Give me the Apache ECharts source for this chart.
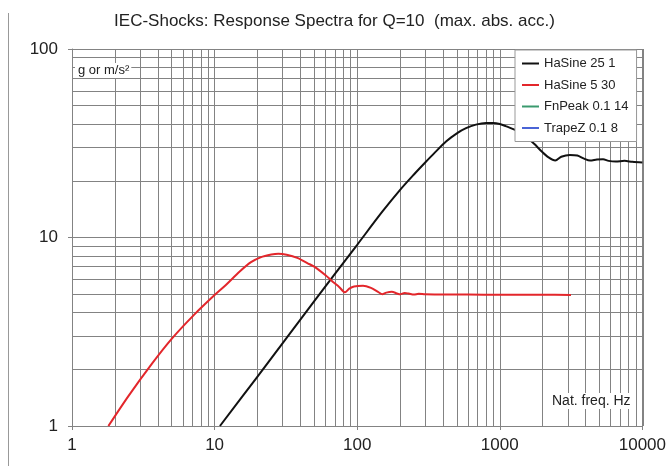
<!DOCTYPE html>
<html><head><meta charset="utf-8">
<script src="https://cdn.jsdelivr.net/npm/echarts@6/dist/echarts.min.js"></script>
<style>html,body{margin:0;padding:0;background:#fff}#c{width:669px;height:466px}</style>
</head><body><div id="c"></div>
<script>
var titleText = 'IEC-Shocks: Response Spectra for Q=10  (max. abs. acc.)';
var seriesNames = ['HaSine 25 1', 'HaSine 5 30', 'FnPeak 0.1 14', 'TrapeZ 0.1 8'];
var seriesColors = ['#111111', '#e3262b', '#3a9a6e', '#4a64d6'];
var xTickLabels = [1, 10, 100, 1000, 10000];
var yTickLabels = [1, 10, 100];

var freqBlack = [10.9, 20, 50, 100, 150, 200, 250, 300, 350, 420, 500, 580, 680, 800, 900, 1000, 1100, 1300, 1520, 1750, 1960, 2200, 2450, 2700, 3100, 3500, 3900, 4300, 4800, 5300, 5800, 6500, 7500, 8500, 10000];
var accBlack  = [1.0, 1.83, 4.6, 9.15, 13.7, 17.9, 21.6, 25.0, 28.2, 32.3, 35.7, 38.0, 39.7, 40.5, 40.5, 40.0, 39.0, 37.0, 34.5, 31.3, 28.7, 26.6, 25.6, 26.8, 27.4, 27.2, 26.2, 25.6, 25.9, 26.0, 25.5, 25.3, 25.5, 25.2, 25.0];

var freqRed = [1.8, 2.5, 3.65, 5, 7.2, 10, 12, 15, 18, 21, 25, 28, 32, 38, 45, 50, 60, 67, 75, 82, 88, 95, 110, 125, 140, 150, 160, 175, 190, 200, 215, 230, 250, 270, 300, 400, 600, 1000, 2000, 3160];
var accRed  = [1.0, 1.45, 2.15, 2.9, 3.9, 4.95, 5.6, 6.6, 7.4, 7.85, 8.12, 8.2, 8.1, 7.8, 7.3, 7.0, 6.3, 5.85, 5.45, 5.12, 5.35, 5.5, 5.55, 5.4, 5.15, 5.0, 5.1, 5.15, 5.05, 5.0, 5.08, 5.04, 4.98, 5.03, 5.0, 4.98, 4.98, 4.97, 4.97, 4.96];

function pairs(xs, ys) { return xs.map(function (x, i) { return [x, ys[i]]; }); }

var minorX = [], minorY = [];
for (var d = 1; d < 10000; d *= 10) for (var k = 2; k <= 9; k++) minorX.push(d * k);
for (var d2 = 1; d2 < 100; d2 *= 10) for (var k2 = 2; k2 <= 9; k2++) minorY.push(d2 * k2);
var gridLines = minorX.map(function (v) { return { xAxis: v }; }).concat(minorY.map(function (v) { return { yAxis: v }; }));

var chart = echarts.init(document.getElementById('c'), null, { renderer: 'canvas' });
var FONT = '"Liberation Sans", Arial, sans-serif';
var GRIDC = '#838383';
chart.setOption({
  animation: false,
  backgroundColor: '#ffffff',
  title: { text: titleText, left: 'center', top: 8, textStyle: { fontFamily: FONT, fontSize: 17, fontWeight: 'normal', color: '#222' } },
  grid: { left: 72, right: 26, top: 49, bottom: 40, containLabel: false },
  legend: {
    data: seriesNames, orient: 'vertical', left: 515, top: 50, selectedMode: false, z: 20,
    backgroundColor: '#fff', borderColor: '#999', borderWidth: 1, padding: [6, 8, 6, 7],
    icon: 'rect', itemWidth: 17, itemHeight: 2, itemGap: 6.5,
    textStyle: { fontFamily: FONT, fontSize: 13, color: '#222', lineHeight: 15 }
  },
  xAxis: {
    type: 'log', logBase: 10, min: 1, max: 10000,
    axisLine: { show: true, lineStyle: { color: GRIDC, width: 1 } },
    axisTick: { show: true, length: 4, lineStyle: { color: GRIDC } },
    axisLabel: { fontFamily: FONT, fontSize: 17, color: '#222', margin: 11,
      formatter: function (v) { return xTickLabels.indexOf(v) >= 0 ? String(v) : ''; } },
    splitLine: { show: true, lineStyle: { color: GRIDC, width: 1 } },
    minorTick: { show: false }, minorSplitLine: { show: false }
  },
  yAxis: {
    type: 'log', logBase: 10, min: 1, max: 100,
    axisLine: { show: true, lineStyle: { color: GRIDC, width: 1 } },
    axisTick: { show: true, length: 4, lineStyle: { color: GRIDC } },
    axisLabel: { fontFamily: FONT, fontSize: 17, color: '#222', margin: 14,
      formatter: function (v) { return yTickLabels.indexOf(v) >= 0 ? String(v) : ''; } },
    splitLine: { show: true, lineStyle: { color: GRIDC, width: 1 } }
  },
  graphic: [
    { type: 'line', shape: { x1: 8.5, y1: 13, x2: 8.5, y2: 466 }, style: { stroke: '#999', lineWidth: 1 }, z: 0 },
    { type: 'line', shape: { x1: 643.5, y1: 49, x2: 643.5, y2: 426 }, style: { stroke: GRIDC, lineWidth: 1 }, z: 0 },
    { type: 'text', left: 75, top: 63, z: 50,
      style: { text: 'g or m/s²', font: '13px ' + FONT, fill: '#222', backgroundColor: '#fff', padding: [1, 2, 1, 3] } },
    { type: 'text', left: 549, top: 393, z: 50,
      style: { text: 'Nat. freq. Hz', font: '14px ' + FONT, fill: '#222', backgroundColor: '#fff', padding: [1, 3, 1, 3] } }
  ],
  series: [
    { name: 'grid', type: 'line', data: [], z: 1, silent: true,
      markLine: { silent: true, symbol: 'none', label: { show: false }, animation: false,
        lineStyle: { color: GRIDC, width: 1, type: 'solid' }, data: gridLines } },
    { name: seriesNames[0], type: 'line', data: pairs(freqBlack, accBlack), showSymbol: false, smooth: 0.3, z: 5,
      lineStyle: { color: seriesColors[0], width: 2 }, itemStyle: { color: seriesColors[0] } },
    { name: seriesNames[1], type: 'line', data: pairs(freqRed, accRed), showSymbol: false, smooth: 0.3, z: 5,
      lineStyle: { color: seriesColors[1], width: 2 }, itemStyle: { color: seriesColors[1] } },
    { name: seriesNames[2], type: 'line', data: [], showSymbol: false,
      lineStyle: { color: seriesColors[2], width: 2 }, itemStyle: { color: seriesColors[2] } },
    { name: seriesNames[3], type: 'line', data: [], showSymbol: false,
      lineStyle: { color: seriesColors[3], width: 2 }, itemStyle: { color: seriesColors[3] } }
  ]
});
</script></body></html>
